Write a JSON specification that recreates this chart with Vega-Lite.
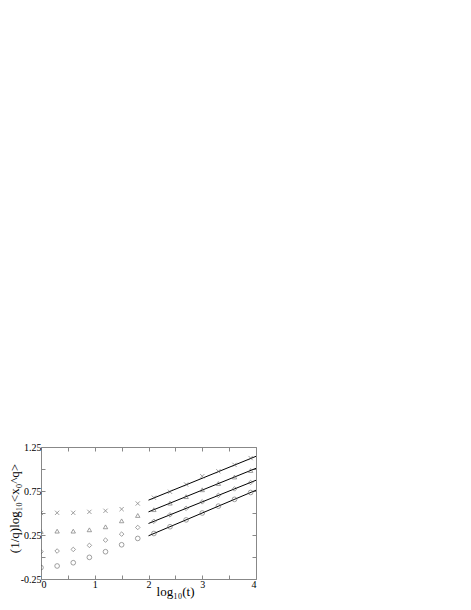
{
  "$schema": "https://vega.github.io/schema/vega-lite/v6.json",
  "width": 215,
  "height": 132,
  "autosize": {"type": "none"},
  "padding": {"left": 41, "top": 447, "right": 215, "bottom": 31},
  "background": "white",
  "config": {
    "view": {"stroke": "#888", "strokeWidth": 1},
    "font": "Liberation Serif",
    "axis": {"domain": false, "grid": false, "tickColor": "#888", "tickSize": -4, "labelFont": "Liberation Serif", "labelFontSize": 10, "labelColor": "black", "titleFont": "Liberation Serif", "titleFontWeight": "normal", "titleColor": "black"}
  },
  "datasets": {
    "pts": [
      {"s": "a", "x": 0, "y": 0.5}, {"s": "a", "x": 0.3, "y": 0.502}, {"s": "a", "x": 0.6, "y": 0.502}, {"s": "a", "x": 0.9, "y": 0.513}, {"s": "a", "x": 1.2, "y": 0.525}, {"s": "a", "x": 1.5, "y": 0.544}, {"s": "a", "x": 1.8, "y": 0.608},
      {"s": "a", "x": 2.1, "y": 0.674}, {"s": "a", "x": 2.4, "y": 0.741}, {"s": "a", "x": 2.7, "y": 0.824}, {"s": "a", "x": 3.0, "y": 0.918}, {"s": "a", "x": 3.3, "y": 0.974}, {"s": "a", "x": 3.6, "y": 1.047}, {"s": "a", "x": 3.9, "y": 1.124},
      {"s": "b", "x": 0, "y": 0.29}, {"s": "b", "x": 0.3, "y": 0.294}, {"s": "b", "x": 0.6, "y": 0.294}, {"s": "b", "x": 0.9, "y": 0.309}, {"s": "b", "x": 1.2, "y": 0.343}, {"s": "b", "x": 1.5, "y": 0.411}, {"s": "b", "x": 1.8, "y": 0.472},
      {"s": "b", "x": 2.1, "y": 0.538}, {"s": "b", "x": 2.4, "y": 0.612}, {"s": "b", "x": 2.7, "y": 0.686}, {"s": "b", "x": 3.0, "y": 0.764}, {"s": "b", "x": 3.3, "y": 0.835}, {"s": "b", "x": 3.6, "y": 0.909}, {"s": "b", "x": 3.9, "y": 0.983},
      {"s": "c", "x": 0, "y": 0.06}, {"s": "c", "x": 0.3, "y": 0.068}, {"s": "c", "x": 0.6, "y": 0.086}, {"s": "c", "x": 0.9, "y": 0.132}, {"s": "c", "x": 1.2, "y": 0.192}, {"s": "c", "x": 1.5, "y": 0.26}, {"s": "c", "x": 1.8, "y": 0.336},
      {"s": "c", "x": 2.1, "y": 0.406}, {"s": "c", "x": 2.4, "y": 0.479}, {"s": "c", "x": 2.7, "y": 0.553}, {"s": "c", "x": 3.0, "y": 0.627}, {"s": "c", "x": 3.3, "y": 0.7}, {"s": "c", "x": 3.6, "y": 0.774}, {"s": "c", "x": 3.9, "y": 0.847},
      {"s": "d", "x": 0, "y": -0.12}, {"s": "d", "x": 0.3, "y": -0.102}, {"s": "d", "x": 0.6, "y": -0.065}, {"s": "d", "x": 0.9, "y": -0.004}, {"s": "d", "x": 1.2, "y": 0.06}, {"s": "d", "x": 1.5, "y": 0.139}, {"s": "d", "x": 1.8, "y": 0.211},
      {"s": "d", "x": 2.1, "y": 0.267}, {"s": "d", "x": 2.4, "y": 0.344}, {"s": "d", "x": 2.7, "y": 0.422}, {"s": "d", "x": 3.0, "y": 0.5}, {"s": "d", "x": 3.3, "y": 0.578}, {"s": "d", "x": 3.6, "y": 0.655}, {"s": "d", "x": 3.9, "y": 0.733}
    ],
    "fits": [
      {"s": "a", "x": 2, "y": 0.646}, {"s": "a", "x": 4, "y": 1.144},
      {"s": "b", "x": 2, "y": 0.513}, {"s": "b", "x": 4, "y": 1.008},
      {"s": "c", "x": 2, "y": 0.381}, {"s": "c", "x": 4, "y": 0.872},
      {"s": "d", "x": 2, "y": 0.241}, {"s": "d", "x": 4, "y": 0.759}
    ]
  },
  "layer": [
    {
      "data": {"name": "fits"},
      "mark": {"type": "line", "color": "black", "strokeWidth": 1},
      "encoding": {
        "x": {"field": "x", "type": "quantitative", "scale": {"domain": [0, 4], "nice": false},
          "axis": {"orient": "bottom", "values": [0, 0.5, 1, 1.5, 2, 2.5, 3, 3.5, 4], "labelExpr": "datum.value % 1 === 0 ? format(datum.value, 'd') : ''", "labelPadding": 4, "title": "log₁₀(t)", "titleFontSize": 13, "titleX": 134, "titleY": 16, "titleBaseline": "alphabetic", "titleAlign": "center"}},
        "y": {"field": "y", "type": "quantitative", "scale": {"domain": [-0.25, 1.25], "nice": false, "zero": false},
          "axis": {"orient": "left", "values": [-0.25, 0, 0.25, 0.5, 0.75, 1, 1.25], "labelExpr": "datum.value == 1.25 ? '1.25' : datum.value == 0.75 ? '0.75' : datum.value == 0.25 ? '0.25' : datum.value == -0.25 ? '-0.25' : ''", "labelPadding": 4, "title": "(1/q)log₁₀<x₀^q>", "titleFontSize": 13, "titleAngle": 270, "titleX": -23, "titleY": 61, "titleAlign": "center", "titleBaseline": "alphabetic"}},
        "detail": {"field": "s"}
      }
    },
    {
      "data": {"name": "pts"},
      "mark": {"type": "point", "filled": false, "stroke": "#555", "strokeWidth": 0.8, "clip": true},
      "encoding": {
        "x": {"field": "x", "type": "quantitative", "scale": {"domain": [0, 4], "nice": false},
          "axis": {"orient": "top", "values": [0, 0.5, 1, 1.5, 2, 2.5, 3, 3.5, 4], "labels": false, "title": null}},
        "y": {"field": "y", "type": "quantitative", "scale": {"domain": [-0.25, 1.25], "nice": false, "zero": false},
          "axis": {"orient": "right", "values": [-0.25, 0, 0.25, 0.5, 0.75, 1, 1.25], "labels": false, "title": null}},
        "shape": {"field": "s", "type": "nominal", "scale": {"domain": ["a", "b", "c", "d"], "range": ["M-1,-1L1,1M-1,1L1,-1", "triangle-up", "diamond", "circle"]}, "legend": null},
        "size": {"field": "s", "type": "nominal", "scale": {"domain": ["a", "b", "c", "d"], "range": [18, 22, 14, 22]}, "legend": null}
      }
    }
  ],
  "resolve": {"axis": {"x": "independent", "y": "independent"}}
}
